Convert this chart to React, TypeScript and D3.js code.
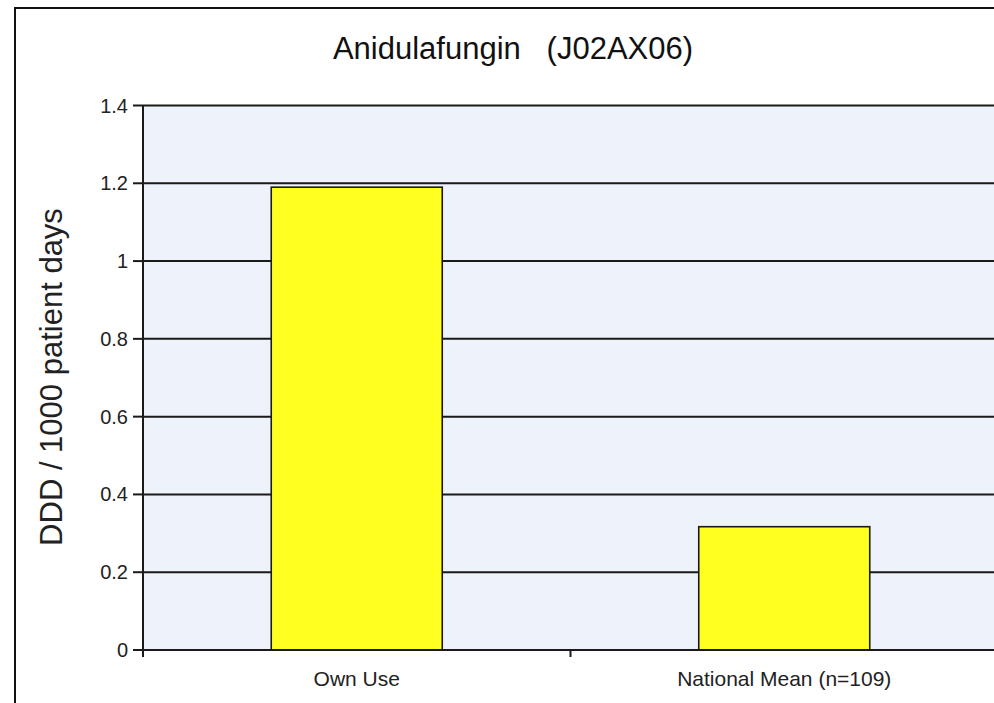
import React from "react";
import * as d3 from "d3";

const title = "Anidulafungin   (J02AX06)";
const yAxisLabel = "DDD / 1000 patient days";
const categories = ["Own Use", "National Mean (n=109)"];
const values = [1.19, 0.317];
const yTicks = [0, 0.2, 0.4, 0.6, 0.8, 1, 1.2, 1.4];

const W = 994;
const H = 703;
const plot = { left: 143, right: 998, top: 105.5, bottom: 650 };
const FONT = "'Liberation Sans', Arial, sans-serif";

export default function App() {
  const x = d3
    .scaleBand<string>()
    .domain(categories)
    .range([plot.left, plot.right])
    .paddingInner(0.6)
    .paddingOuter(0.3);
  const y = d3.scaleLinear().domain([0, 1.4]).range([plot.bottom, plot.top]);
  const step = x.step();
  const boundaries = categories.map((_, i) => plot.left + i * step);
  const farRight = 1400;

  return (
    <div style={{ position: "fixed", left: 0, top: 0, right: 0, bottom: 0, overflow: "hidden", background: "#fff" }}>
      <svg
        width={farRight}
        height={H}
        style={{ display: "block" }}
        fontFamily={FONT}
      >
        {/* outer chart border (cut off at right/bottom) */}
        <line x1={15} x2={15} y1={7} y2={H + 10} stroke="#111" strokeWidth={2} />
        <line x1={14} x2={farRight} y1={8} y2={8} stroke="#111" strokeWidth={2} />

        {/* title */}
        <text x={513} y={59} textAnchor="middle" fontSize={31} fill="#111" style={{ whiteSpace: "pre" }}>
          {title}
        </text>

        {/* plot background */}
        <rect
          x={plot.left}
          y={plot.top}
          width={farRight - plot.left}
          height={plot.bottom - plot.top}
          fill="#EEF2FA"
        />

        {/* gridlines */}
        {yTicks.map((t) => (
          <line
            key={"g" + t}
            x1={plot.left}
            x2={farRight}
            y1={y(t)}
            y2={y(t)}
            stroke="#1a1a1a"
            strokeWidth={2}
          />
        ))}

        {/* bars */}
        {categories.map((c, i) => (
          <rect
            key={c}
            x={x(c)}
            y={y(values[i])}
            width={x.bandwidth()}
            height={y(0) - y(values[i])}
            fill="#FFFF20"
            stroke="#1a1a1a"
            strokeWidth={1.6}
          />
        ))}

        {/* y axis */}
        <line x1={plot.left} x2={plot.left} y1={plot.top} y2={plot.bottom + 7} stroke="#1a1a1a" strokeWidth={2} />
        {yTicks.map((t) => (
          <g key={"t" + t}>
            <line x1={plot.left - 10} x2={plot.left} y1={y(t)} y2={y(t)} stroke="#1a1a1a" strokeWidth={2} />
            <text x={128} y={y(t)} dy="0.35em" textAnchor="end" fontSize={20} fill="#222">
              {d3.format("~g")(t)}
            </text>
          </g>
        ))}

        {/* x axis */}
        <line x1={plot.left} x2={farRight} y1={plot.bottom} y2={plot.bottom} stroke="#1a1a1a" strokeWidth={2} />
        {boundaries.map((b, i) => (
          <line key={"xb" + i} x1={b} x2={b} y1={plot.bottom} y2={plot.bottom + 7} stroke="#1a1a1a" strokeWidth={2} />
        ))}
        {categories.map((c) => (
          <text
            key={"l" + c}
            x={(x(c) as number) + x.bandwidth() / 2}
            y={686}
            textAnchor="middle"
            fontSize={21}
            fill="#222"
          >
            {c}
          </text>
        ))}

        {/* y axis label */}
        <text
          transform={`translate(62, 377) rotate(-90)`}
          textAnchor="middle"
          fontSize={31}
          fill="#222"
        >
          {yAxisLabel}
        </text>
      </svg>
    </div>
  );
}
